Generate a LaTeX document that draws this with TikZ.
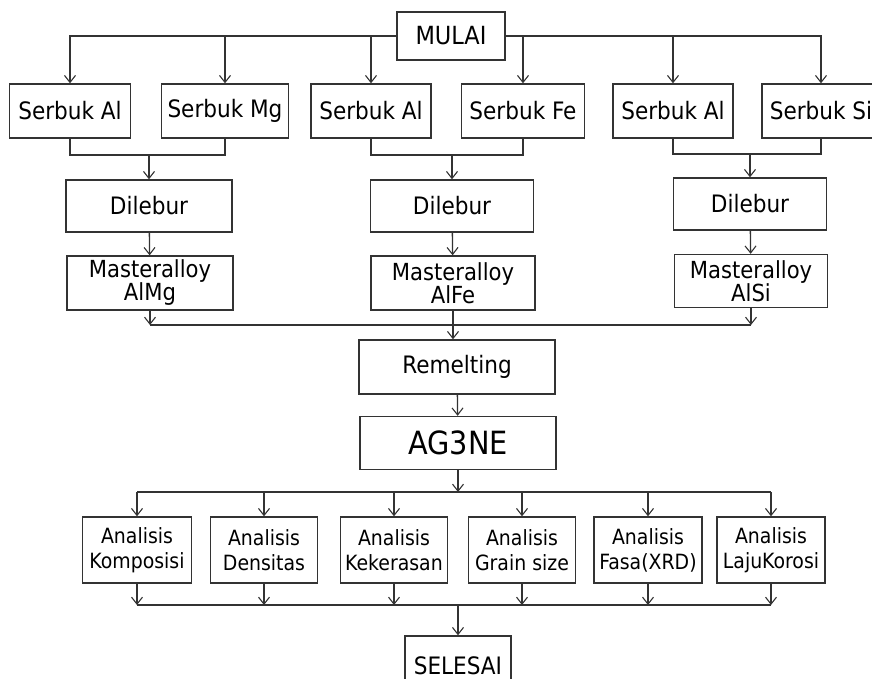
\documentclass[tikz,border=0pt]{standalone}
\usepackage{fontspec}
\setmainfont{DejaVu Sans Condensed}
\usetikzlibrary{arrows.meta}
\begin{document}
\begin{tikzpicture}[x=1pt,y=-1pt,
  box/.style={draw=black!80,line width=1.4pt,inner sep=0pt,align=center,text=black},
  ln/.style={draw=black!80,line width=1.3pt},
  arr/.style={ln,-{Straight Barb[length=7pt,width=11pt,line width=1.1pt]}},
  fsS/.style={font=\fontsize{24}{26}\selectfont},
  fsD/.style={font=\fontsize{24}{26}\selectfont},
  fsM/.style={font=\fontsize{23.5}{23}\selectfont},
  fsN/.style={font=\fontsize{21}{25}\selectfont}]
\useasboundingbox (0,0) rectangle (872,679);
\clip (0,0) rectangle (872,679);
% start
\node[box,font=\fontsize{25}{27}\selectfont,minimum width=108pt,minimum height=48pt] (M) at (451,36) {MULAI};
% powders
\node[box,fsS,minimum width=121pt,minimum height=54pt] (S1) at (70,111) {Serbuk Al};
\node[box,fsS,minimum width=127pt,minimum height=54pt] (S2) at (225,111) {Serbuk Mg};
\node[box,fsS,minimum width=120pt,minimum height=54pt] (S3) at (371,111) {Serbuk Al};
\node[box,fsS,minimum width=123pt,minimum height=54pt] (S4) at (523,111) {Serbuk Fe};
\node[box,fsS,minimum width=120pt,minimum height=54pt] (S5) at (673,111) {Serbuk Al};
\node[box,fsS,minimum width=118pt,minimum height=54pt] (S6) at (821,111) {Serbuk Si};
% melting
\node[box,fsD,minimum width=166pt,minimum height=52pt] (D1) at (149,206) {Dilebur};
\node[box,fsD,minimum width=163pt,minimum height=52pt] (D2) at (452,206) {Dilebur};
\node[box,fsD,minimum width=153pt,minimum height=52pt] (D3) at (750,204) {Dilebur};
% master alloys
\node[box,fsM,minimum width=166pt,minimum height=54pt] (A1) at (150,283) {Masteralloy\\AlMg};
\node[box,fsM,minimum width=164pt,minimum height=54pt] (A2) at (453,283) {Masteralloy\\AlFe};
\node[box,fsM,minimum width=153pt,minimum height=53pt] (A3) at (751,281) {Masteralloy\\AlSi};
% remelting and product
\node[box,font=\fontsize{24}{26}\selectfont,minimum width=196pt,minimum height=54pt] (R) at (457,367) {Remelting};
\node[box,font=\fontsize{32}{34}\selectfont,minimum width=196pt,minimum height=53pt] (P) at (458,443) {AG3NE};
% analyses
\node[box,fsN,minimum width=109pt,minimum height=66pt] (N1) at (137,550) {Analisis\\Komposisi};
\node[box,fsN,minimum width=107pt,minimum height=66pt] (N2) at (264,550) {Analisis\\Densitas};
\node[box,fsN,minimum width=107pt,minimum height=66pt] (N3) at (394,550) {Analisis\\Kekerasan};
\node[box,fsN,minimum width=107pt,minimum height=66pt] (N4) at (522,550) {Analisis\\Grain size};
\node[box,fsN,minimum width=108pt,minimum height=66pt] (N5) at (648,550) {Analisis\\Fasa(XRD)};
\node[box,fsN,minimum width=108pt,minimum height=66pt] (N6) at (771,550) {Analisis\\LajuKorosi};
% end
\node[box,font=\fontsize{24}{26}\selectfont,minimum width=106pt,minimum height=60pt] (E) at (458,666) {SELESAI};
% junction coordinates
\coordinate (j1) at (149,155);
\coordinate (j2) at (452,155);
\coordinate (j3) at (750,154);
\coordinate (jm) at (457,325);
\coordinate (ja) at (458,492);
\coordinate (jb) at (458,605);
% start to powders
\draw[arr] (M.west) -| (S1.north);
\draw[arr] (S2.north |- M.west) -- (S2.north);
\draw[arr] (S3.north |- M.west) -- (S3.north);
\draw[arr] (M.east) -| (S6.north);
\draw[arr] (S4.north |- M.east) -- (S4.north);
\draw[arr] (S5.north |- M.east) -- (S5.north);
% powders to melting
\draw[ln] (S1.south) |- (j1) -| (S2.south);
\draw[ln] (S3.south) |- (j2) -| (S4.south);
\draw[ln] (S5.south) |- (j3) -| (S6.south);
\draw[arr] (j1) -- (D1.north);
\draw[arr] (j2) -- (D2.north);
\draw[arr] (j3) -- (D3.north);
% melting to master alloys
\draw[arr] (D1) -- (A1);
\draw[arr] (D2) -- (A2);
\draw[arr] (D3) -- (A3);
% master alloys to remelting
\draw[ln] (A1.south |- jm) -- (A3.south |- jm);
\draw[arr] (A1.south) -- (A1.south |- jm);
\draw[arr] (A3.south) -- (A3.south |- jm);
\draw[arr] (A2.south) -- (A2.south |- R.north);
\draw[arr] (R) -- (P);
% product to analyses
\draw[arr] (P) -- (ja);
\draw[ln] (N1.north |- ja) -- (N6.north |- ja);
\foreach \n in {N1,N2,N3,N4,N5,N6}{\draw[arr] (\n.north |- ja) -- (\n.north);}
% analyses to end
\draw[ln] (N1.south |- jb) -- (N6.south |- jb);
\foreach \n in {N1,N2,N3,N4,N5,N6}{\draw[arr] (\n.south) -- (\n.south |- jb);}
\draw[arr] (jb) -- (E.north);
\end{tikzpicture}
\end{document}
